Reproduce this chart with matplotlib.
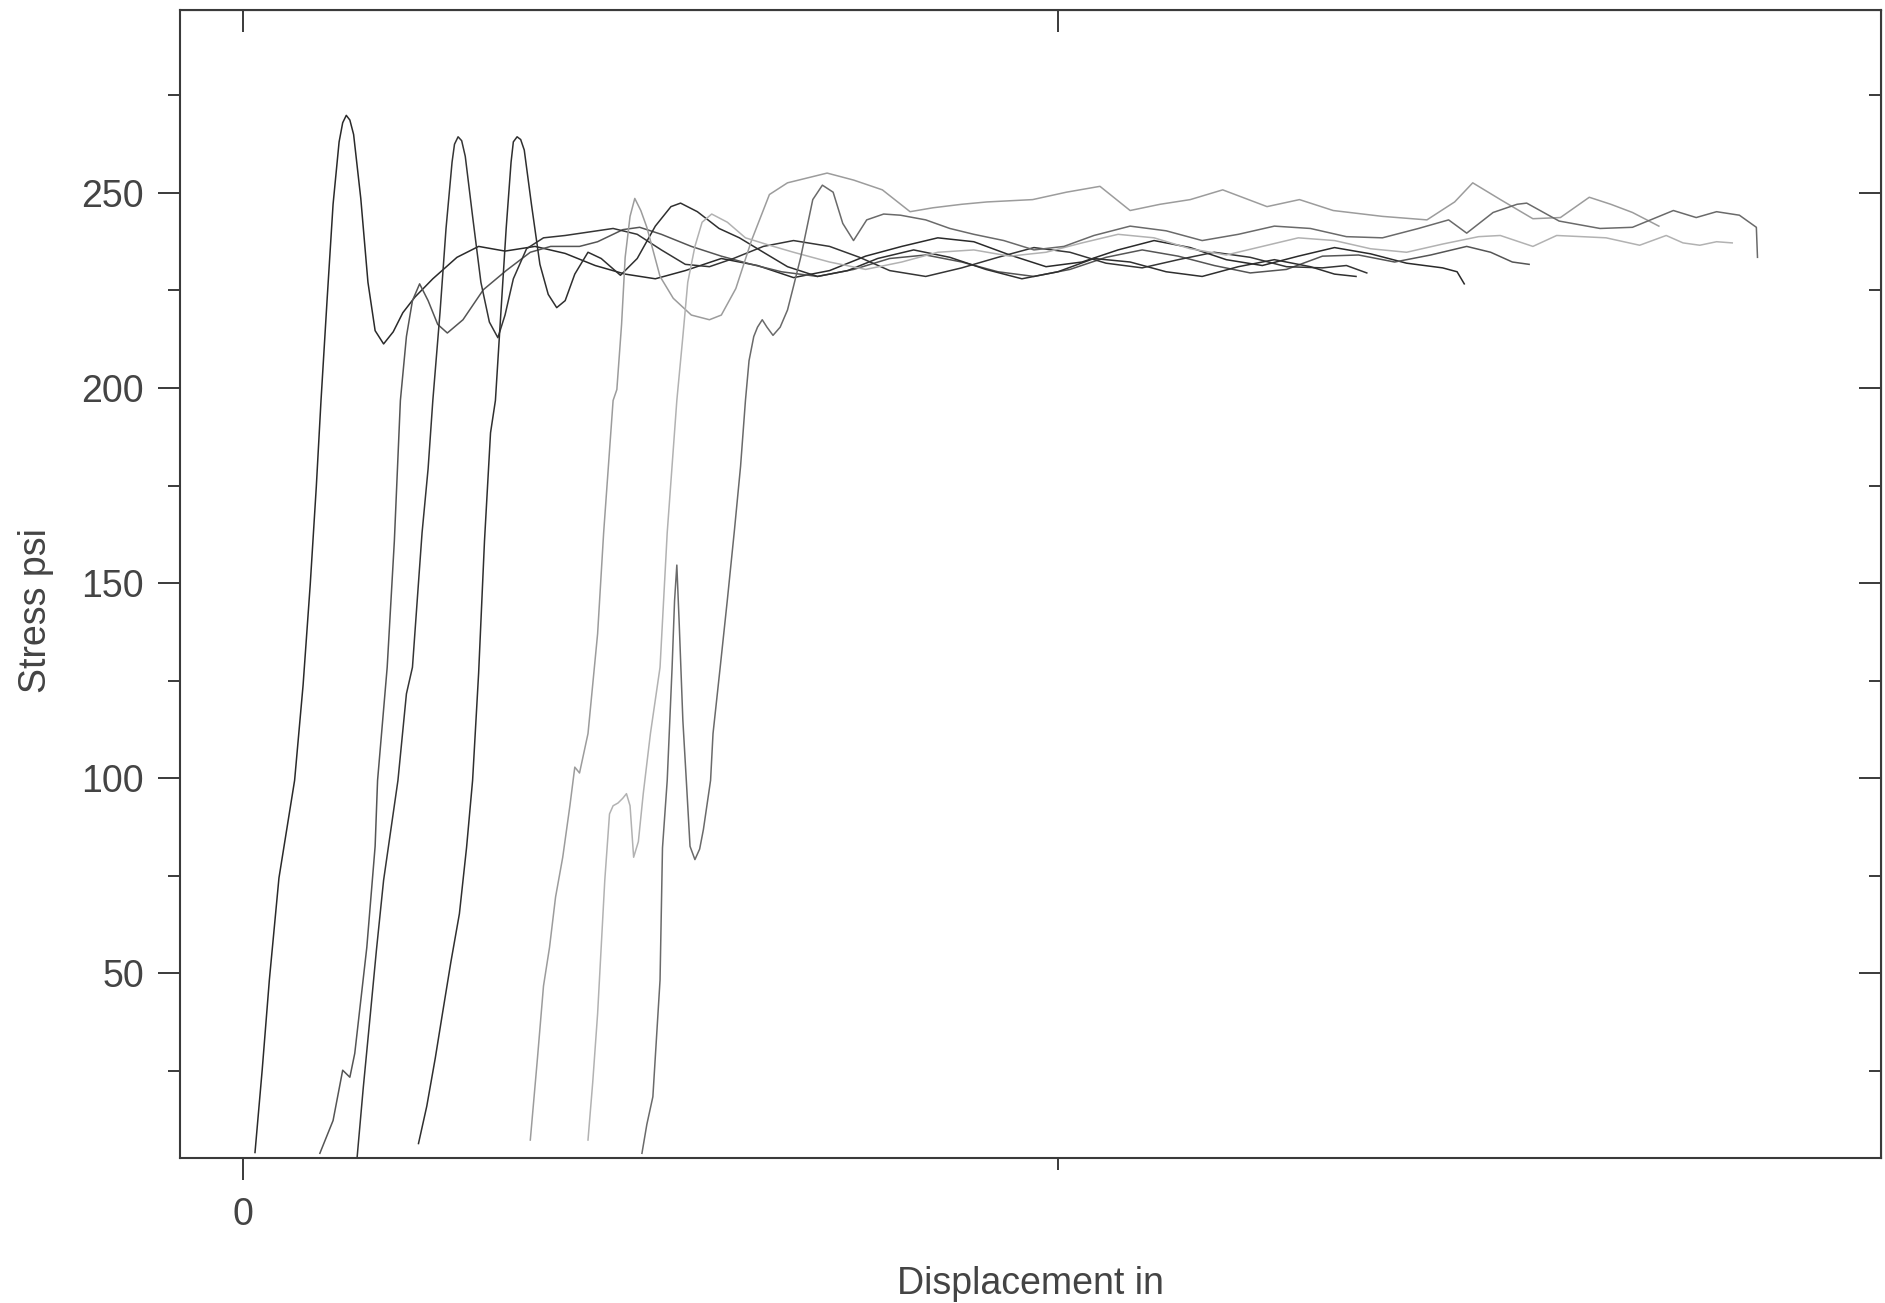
import matplotlib.pyplot as plt

# displacement (in) and stress (psi) for each specimen
disp_a = [.0074, .0118, .0162, .0221, .0317, .0369, .0413, .0450, .0479, .0516, .0553, .0590, .0612,
          .0634, .0656, .0679, .0723, .0767, .0811, .0863, .0922, .0981, .1055, .1165, .1313, .1446,
          .1608, .1792, .1977, .2161, .2345, .2530, .2714, .2935, .3157, .3378, .3599, .3820, .4042,
          .4263, .4484, .4705, .4927, .5148, .5369, .5590, .5812, .6033, .6254, .6475, .6697, .6918,
          .7139, .7360, .7449, .7493]
stress_a = [4, 25.1, 48.2, 74.4, 99.4, 123.8, 149.7, 174.6, 196.8, 222.4, 247.1, 263.1, 268,
            269.9, 268.7, 265, 248.6, 227.1, 214.7, 211.3, 214.4, 219.3, 223.3, 228, 233.5, 236.3,
            235.1, 236.3, 234.5, 231.4, 229.2, 228, 230.1, 233.2, 231.4, 228.3, 230.1, 233.8, 236.3,
            238.5, 237.5, 234.1, 231.1, 232.3, 235.4, 237.8, 236, 232.9, 231.4, 233.8, 236, 234.4,
            232, 230.8, 229.8, 226.7]

disp_b = [.0472, .0553, .0612, .0656, .0686, .0760, .0811, .0826, .0885, .0929, .0966, .1003, .1040,
          .1084, .1136, .1195, .1254, .1350, .1475, .1615, .1763, .1888, .2065, .2176, .2331, .2434,
          .2567, .2751, .2935, .3120, .3304, .3525, .3747, .3968, .4189, .4410, .4632, .4853, .5074,
          .5295, .5517, .5738, .5959, .6180, .6402, .6623, .6844, .7066, .7287, .7508, .7655, .7788,
          .7891]
stress_b = [3.8, 12.2, 25.1, 23.3, 29.4, 56.6, 82.5, 99.4, 128.4, 160.8, 196.8, 213.2, 222.4,
            226.7, 222.4, 216.3, 214.1, 217.5, 225.2, 230.1, 234.8, 236.3, 236.3, 237.5, 240.6, 241.2,
            239.4, 236.3, 233.8, 231.7, 229.8, 228.6, 230.4, 233.2, 234.1, 232.3, 229.8, 228.6, 230.4,
            233.5, 235.4, 233.8, 231.4, 229.5, 230.4, 233.8, 234.1, 232.3, 234.1, 236.3, 234.8, 232.3,
            231.7]

disp_c = [.0701, .0738, .0782, .0819, .0863, .0951, .1003, .1040, .1069, .1099, .1136, .1165, .1209,
          .1246, .1283, .1298, .1320, .1342, .1364, .1409, .1460, .1512, .1564, .1608, .1659, .1740,
          .1844, .1977, .2124, .2271, .2419, .2567, .2714, .2862, .3009, .3193, .3378, .3599, .3783,
          .3968, .4189, .4410, .4632, .4853, .5074, .5295, .5517, .5738, .5959, .6180, .6402, .6623,
          .6770, .6895]
stress_c = [3, 20.5, 39.6, 55.9, 73.8, 99.4, 121.6, 128.4, 145.4, 162.9, 179.3, 196.8, 219.3,
            240.9, 257.9, 262.5, 264.4, 263.4, 259.4, 244, 227.1, 216.9, 212.9, 218.7, 228, 235.7,
            238.5, 239.1, 240, 240.9, 239.4, 235.4, 231.7, 231.1, 233.2, 236.3, 237.8, 236.3, 233.5,
            230.1, 228.6, 230.8, 233.5, 236, 234.8, 232, 230.8, 232.9, 234.8, 233.5, 231.1, 230.8,
            231.4, 229.5]

disp_d = [.1077, .1128, .1180, .1224, .1276, .1328, .1372, .1409, .1446, .1482, .1519, .1549, .1578,
          .1615, .1645, .1659, .1682, .1704, .1726, .1770, .1822, .1873, .1925, .1977, .2036, .2117,
          .2198, .2316, .2419, .2530, .2626, .2685, .2788, .2921, .3046, .3193, .3341, .3525, .3710,
          .3894, .4115, .4337, .4558, .4779, .5000, .5221, .5443, .5664, .5885, .6107, .6328, .6549,
          .6697, .6829]
stress_d = [6.3, 15.9, 28.2, 39.6, 52.9, 65.2, 82.2, 99.4, 126.9, 160.8, 188.5, 196.8, 216.3,
            240.9, 257.9, 263.1, 264.4, 263.7, 261, 247.1, 231.7, 224, 220.6, 222.4, 229.2, 234.8,
            233.2, 228.9, 233.2, 241.5, 246.5, 247.4, 245.2, 240.9, 238.5, 234.8, 231.1, 228.6, 230.1,
            233.2, 235.4, 233.5, 230.4, 228, 229.8, 233.2, 232.3, 229.8, 228.6, 231.1, 232.9, 231.1,
            229.2, 228.6]

disp_e = [.1763, .1807, .1844, .1881, .1918, .1962, .2006, .2036, .2065, .2117, .2176, .2213, .2271,
          .2294, .2323, .2345, .2375, .2404, .2441, .2478, .2559, .2640, .2751, .2862, .2935, .3024,
          .3120, .3230, .3341, .3584, .3747, .3923, .4093, .4233, .4410, .4565, .4845, .5052, .5258,
          .5443, .5627, .5812, .6011, .6283, .6482, .6689, .6991, .7264, .7434, .7545, .7715, .7914,
          .8083, .8260, .8392, .8525, .8687]
stress_e = [7.2, 28.2, 46.7, 56.6, 69.5, 79.7, 92.9, 102.8, 101.3, 111.4, 137, 162.9, 196.8,
            199.6, 216.3, 233.5, 244, 248.6, 245.5, 241.2, 228.6, 223, 218.7, 217.5, 218.7, 225.5,
            237.8, 249.6, 252.6, 255.1, 253.3, 250.8, 245.2, 246.2, 247.1, 247.7, 248.3, 250.2, 251.7,
            245.5, 247.1, 248.3, 250.8, 246.5, 248.3, 245.5, 244, 243.1, 247.7, 252.6, 248.3, 243.4,
            243.7, 248.9, 247.1, 245, 241.5]

disp_f = [.2117, .2146, .2176, .2220, .2249, .2271, .2301, .2330, .2353, .2375, .2397, .2426, .2456,
          .2500, .2559, .2603, .2662, .2699, .2729, .2773, .2817, .2876, .2972, .3083, .3230, .3378,
          .3599, .3820, .4042, .4263, .4484, .4705, .4927, .5148, .5369, .5590, .5812, .6033, .6254,
          .6475, .6697, .6918, .7139, .7360, .7581, .7714, .7914, .8060, .8215, .8363, .8569, .8732,
          .8835, .8938, .9041, .9137]
stress_f = [7.2, 22, 39.6, 73.8, 90.8, 92.9, 93.6, 94.8, 96, 92.9, 79.7, 83.7, 96,
            111.4, 128.4, 162.9, 196.8, 213.2, 227.1, 236.3, 242.5, 244.6, 242.5, 238.5, 236.6, 234.8,
            232.3, 230.4, 232.3, 234.8, 235.4, 233.8, 234.8, 237.2, 239.4, 238.5, 235.7, 234.1, 236.3,
            238.5, 237.8, 235.7, 234.8, 236.9, 238.8, 239.1, 236.3, 239.1, 238.8, 238.5, 236.6, 239.1,
            237.2, 236.6, 237.5, 237.2]

disp_g = [.2448, .2478, .2515, .2559, .2574, .2603, .2633, .2648, .2662, .2677, .2699, .2721, .2743,
          .2773, .2802, .2825, .2869, .2884, .2928, .2972, .3016, .3053, .3083, .3105, .3134, .3157,
          .3186, .3215, .3252, .3296, .3341, .3378, .3422, .3459, .3496, .3555, .3621, .3680, .3746,
          .3827, .3931, .4034, .4189, .4337, .4484, .4668, .4853, .5037, .5221, .5443, .5664, .5885,
          .6107, .6328, .6549, .6770, .6991, .7212, .7397, .7508, .7670, .7817, .7876, .8075, .8326,
          .8525, .8776, .8916, .9041, .9181, .9285, .9292]
stress_g = [3.8, 11.2, 18.3, 48.2, 82.1, 99.4, 128.4, 145.4, 154.6, 139.2, 114.8, 98.8, 82.5,
            79.1, 81.8, 86.8, 99.4, 111.4, 128.4, 145.7, 163.8, 179.9, 196.8, 207, 213.2, 215.6,
            217.5, 215.6, 213.5, 215.6, 220, 226.1, 233.5, 240.9, 248.3, 252, 250.2, 242.2, 237.8,
            243.1, 244.6, 244.3, 243.1, 240.9, 239.4, 237.8, 235.4, 236.3, 239.1, 241.5, 240.3, 237.8,
            239.4, 241.5, 240.9, 238.8, 238.5, 240.9, 243.1, 239.7, 245, 247.1, 247.4, 242.8, 240.9,
            241.2, 245.5, 243.7, 245.2, 244.3, 241.2, 233.5]

curves = [
    (disp_a, stress_a, '#2a2a2a'),
    (disp_b, stress_b, '#555555'),
    (disp_c, stress_c, '#353535'),
    (disp_d, stress_d, '#2f2f2f'),
    (disp_e, stress_e, '#9c9c9c'),
    (disp_f, stress_f, '#b2b2b2'),
    (disp_g, stress_g, '#6a6a6a'),
]

plt.rcParams['font.family'] = ['Liberation Sans', 'DejaVu Sans']

fig = plt.figure(figsize=(18.85, 13.03), dpi=100)
ax = fig.add_axes([0.0955, 0.1113, 0.9024, 0.881])

for x, y, col in curves:
    ax.plot(x, y, color=col, lw=1.1, solid_joinstyle='round')

ax.set_xlim(-0.0386, 1.005)
ax.set_ylim(2.6, 296.9)

ax.set_xticks([0])
ax.set_xticklabels(['0'])
ax.set_xticks([0.5], minor=True)
ax.set_yticks([50, 100, 150, 200, 250])
ax.set_yticks([25, 75, 125, 175, 225, 275], minor=True)

for s in ax.spines.values():
    s.set_color('#3a3a3a')
    s.set_linewidth(1.5)

ax.tick_params(which='major', direction='out', length=16, width=1.4, color='#3a3a3a',
               labelsize=27, labelcolor='#444444')
ax.tick_params(which='minor', direction='out', length=8.5, width=1.4, color='#3a3a3a')
ax.tick_params(axis='x', which='major', pad=12)
ax.tick_params(axis='y', which='major', pad=10)

# mirrored ticks on top and right point inward
top = ax.secondary_xaxis('top')
top.set_xticks([0, 0.5])
top.tick_params(direction='in', length=16, width=1.4, color='#3a3a3a', labeltop=False)
right = ax.secondary_yaxis('right')
right.set_yticks([50, 100, 150, 200, 250])
right.set_yticks([25, 75, 125, 175, 225, 275], minor=True)
right.tick_params(which='major', direction='in', length=16, width=1.4, color='#3a3a3a', labelright=False)
right.tick_params(which='minor', direction='in', length=8.5, width=1.4, color='#3a3a3a')

ax.set_xlabel('Displacement in', fontsize=27, color='#444444', labelpad=24)
ax.set_ylabel('Stress psi', fontsize=27, color='#444444')
ax.yaxis.set_label_coords(-0.074, 0.477)

fig.savefig('out.png', dpi=100, facecolor='white')
